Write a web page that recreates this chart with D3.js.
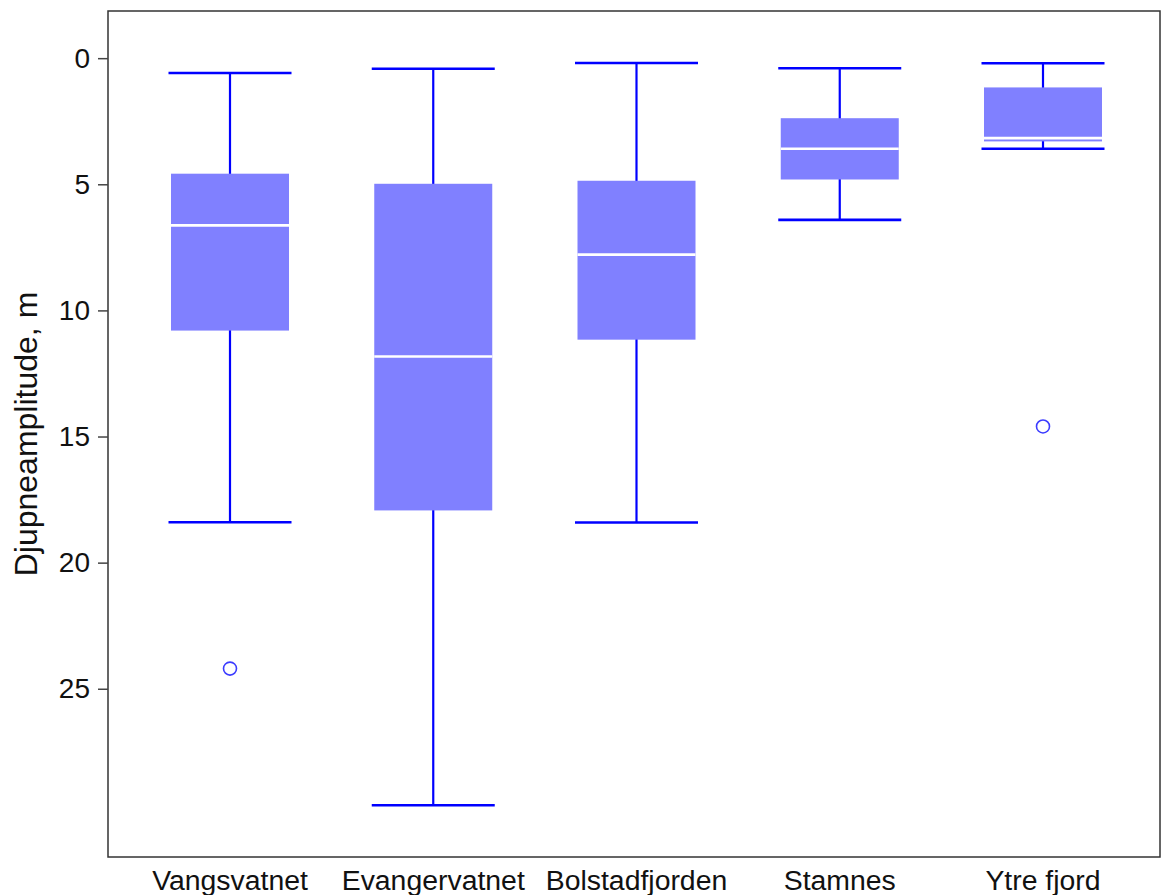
<!DOCTYPE html>
<meta charset="utf-8">
<body style="margin:0;background:#fff">
<svg width="1164" height="895"></svg>
<script src="https://cdn.jsdelivr.net/npm/d3@7"></script>
<script>

// values (depth amplitude, m)
var sites = ["Vangsvatnet", "Evangervatnet", "Bolstadfjorden", "Stamnes", "Ytre fjord"];
var whiskTop = [0.59, 0.42, 0.19, 0.40, 0.20];
var q1 = [4.58, 4.98, 4.86, 2.38, 1.16];
var median = [6.63, 11.83, 7.79, 3.59, 3.17];
var q3 = [10.8, 17.93, 11.16, 4.81, 3.30];
var whiskBot = [18.4, 29.62, 18.41, 6.41, 3.59];
var outliers = [[24.2], [], [], [], [14.6]];
var yTicks = [0, 5, 10, 15, 20, 25];

var svg = d3.select("svg");
var plotL = 108, plotR = 1160, plotT = 11, plotB = 857;

var x = d3.scalePoint().domain(sites).range([230, 1043]);
var y = d3.scaleLinear().domain([-1.87, 31.67]).range([plotT, plotB]);

var boxW = 118, capW = 123;
var font = "Liberation Sans, Arial, sans-serif";

var rows = sites.map(function(s, i) {
  return {site: s, lo: whiskTop[i], q1: q1[i], med: median[i], q3: q3[i], hi: whiskBot[i], out: outliers[i]};
});

var g = svg.append("g");

// whiskers
g.selectAll(".wh").data(rows).enter().append("line")
  .attr("x1", d => x(d.site)).attr("x2", d => x(d.site))
  .attr("y1", d => y(d.lo)).attr("y2", d => y(d.hi))
  .attr("stroke", "#0000ff").attr("stroke-width", 2.2);

// caps
["lo", "hi"].forEach(function(k) {
  g.selectAll(".cap-" + k).data(rows).enter().append("line")
    .attr("x1", d => x(d.site) - capW / 2).attr("x2", d => x(d.site) + capW / 2)
    .attr("y1", d => y(d[k])).attr("y2", d => y(d[k]))
    .attr("stroke", "#0000ff").attr("stroke-width", 2.6);
});

// boxes
g.selectAll(".box").data(rows).enter().append("rect")
  .attr("x", d => x(d.site) - boxW / 2).attr("width", boxW)
  .attr("y", d => y(d.q1)).attr("height", d => y(d.q3) - y(d.q1))
  .attr("fill", "#8080ff");

// medians
g.selectAll(".med").data(rows).enter().append("line")
  .attr("x1", d => x(d.site) - boxW / 2).attr("x2", d => x(d.site) + boxW / 2)
  .attr("y1", d => y(d.med)).attr("y2", d => y(d.med))
  .attr("stroke", "#fff").attr("stroke-width", 2.6);

// outliers
rows.forEach(function(d) {
  d.out.forEach(function(v) {
    g.append("circle").attr("cx", x(d.site)).attr("cy", y(v)).attr("r", 6.5)
      .attr("fill", "none").attr("stroke", "#3c3cff").attr("stroke-width", 1.6);
  });
});

// frame
svg.append("rect").attr("x", plotL).attr("y", plotT)
  .attr("width", plotR - plotL).attr("height", plotB - plotT)
  .attr("fill", "none").attr("stroke", "#333").attr("stroke-width", 1.5);

// y axis
var yAxis = svg.append("g").attr("transform", "translate(" + plotL + ",0)")
  .call(d3.axisLeft(y).tickValues(yTicks).tickSize(10).tickPadding(8));
yAxis.select(".domain").remove();
yAxis.selectAll(".tick line").attr("stroke", "#444").attr("stroke-width", 1.5);
yAxis.selectAll("text").attr("font-family", font).attr("font-size", 28).attr("fill", "#111");

// x labels
svg.append("g").selectAll("text").data(sites).enter().append("text")
  .attr("x", d => x(d)).attr("y", 890)
  .attr("text-anchor", "middle")
  .attr("font-family", font).attr("font-size", 28.4).attr("fill", "#111")
  .text(d => d);

// y title
svg.append("text")
  .attr("transform", "translate(37,434) rotate(-90)")
  .attr("text-anchor", "middle")
  .attr("font-family", font).attr("font-size", 32).attr("fill", "#111")
  .text("Djupneamplitude, m");

</script>
</body>
